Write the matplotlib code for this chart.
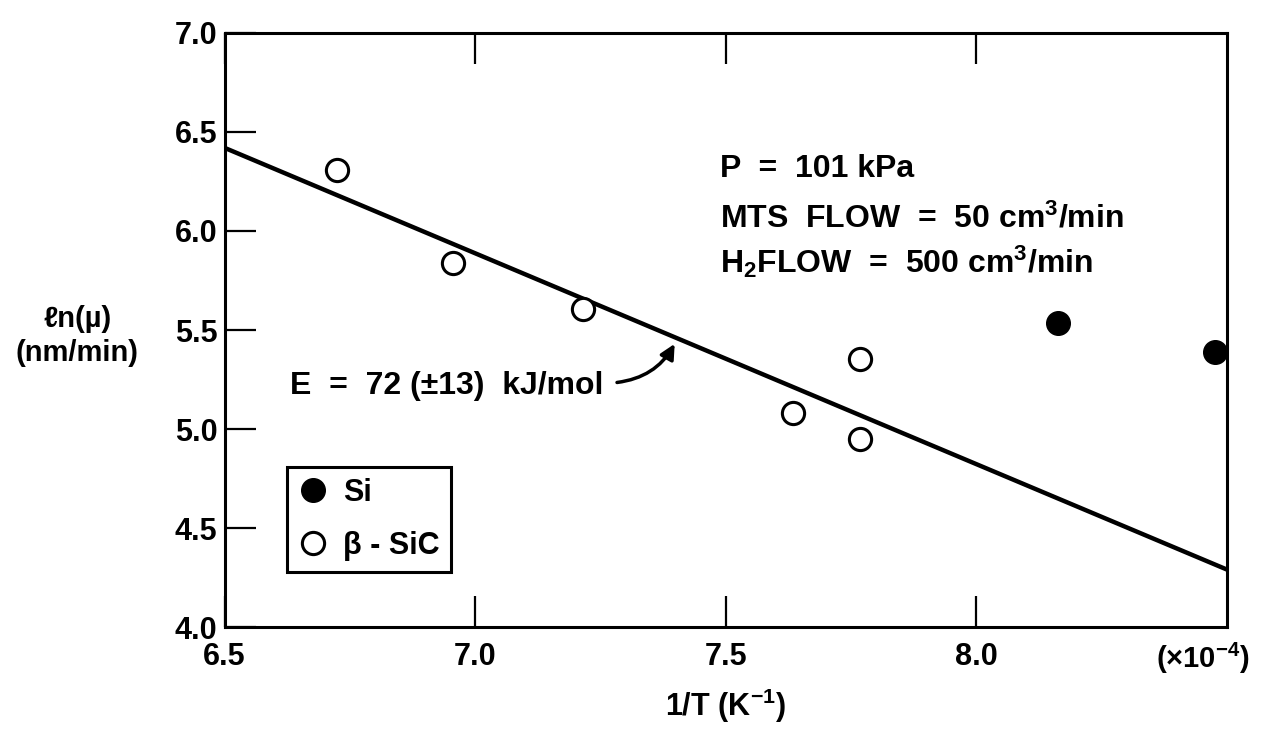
import matplotlib
matplotlib.use("Agg")
import matplotlib.pyplot as plt
from matplotlib.lines import Line2D

plt.rcParams['font.family'] = ['Liberation Sans', 'DejaVu Sans']
plt.rcParams['font.weight'] = 'bold'
plt.rcParams['axes.labelweight'] = 'bold'
plt.rcParams['mathtext.fontset'] = 'custom'
plt.rcParams['mathtext.rm'] = 'Liberation Sans:bold'
plt.rcParams['mathtext.it'] = 'Liberation Sans:italic:bold'
plt.rcParams['mathtext.bf'] = 'Liberation Sans:bold'
plt.rcParams['mathtext.default'] = 'rm'

# deposition rate vs inverse temperature (x in units of 1e-4 1/K)
sic_x = [6.725, 6.956, 7.216, 7.635, 7.768, 7.768]
sic_y = [6.307, 5.837, 5.604, 5.083, 5.356, 4.951]
si_x = [8.162, 8.477]
si_y = [5.533, 5.391]

# Arrhenius fit line
fit_x = [6.5, 8.5]
fit_y = [6.42, 4.29]

x_ticks = [6.5, 7.0, 7.5, 8.0]
y_ticks = [4.0, 4.5, 5.0, 5.5, 6.0, 6.5, 7.0]

fig = plt.figure(figsize=(12.63, 7.43), dpi=100)
ax = fig.add_axes([0.1778, 0.1561, 0.7937, 0.7995])

ax.plot(fit_x, fit_y, color='black', lw=3.2, solid_capstyle='butt', zorder=2)
ax.plot(sic_x, sic_y, 'o', ms=16, mfc='white', mec='black', mew=2.2, zorder=3)
ax.plot(si_x, si_y, 'o', ms=17, mfc='black', mec='black', zorder=3, clip_on=False)

ax.set_xlim(6.5, 8.5)
ax.set_ylim(4.0, 7.0)
ax.set_xticks(x_ticks)
ax.set_xticklabels([f'{v:.1f}' for v in x_ticks])
ax.set_yticks(y_ticks)
ax.set_yticklabels([f'{v:.1f}' for v in y_ticks])
ax.tick_params(axis='both', direction='in', length=22, width=1.6,
               labelsize=22, top=True, right=False)
ax.tick_params(axis='x', pad=11)
ax.tick_params(axis='y', pad=5)
for s in ax.spines.values():
    s.set_linewidth(2.2)

ax.set_xlabel('1/T (K$^{-1}$)', fontsize=22)
ax.xaxis.set_label_coords(0.5, -0.1)
ax.set_ylabel('ℓn(µ)\n(nm/min)', fontsize=21, rotation=0,
              ha='center', va='center', multialignment='center', linespacing=1.3)
ax.yaxis.set_label_coords(-0.147, 0.49)
ax.text(0.976, -0.052, '(×10$^{-4}$)', transform=ax.transAxes,
        ha='center', va='center', fontsize=21)

# run conditions
ax.text(7.489, 6.272, 'P  =  101 kPa', fontsize=23, va='baseline')
ax.text(7.489, 6.019, 'MTS  FLOW  =  50 cm$^{3}$/min', fontsize=23, va='baseline')
ax.text(7.489, 5.786, 'H$_{2}$FLOW  =  500 cm$^{3}$/min', fontsize=23, va='baseline')

# activation energy label with curved arrow to the fit line
ax.text(6.631, 5.179, 'E  =  72 (±13)  kJ/mol', fontsize=23, va='baseline')
ax.annotate('', xy=(7.398, 5.43), xytext=(7.283, 5.235),
            arrowprops=dict(arrowstyle='-|>', color='black', lw=2.5,
                            mutation_scale=22, shrinkA=0, shrinkB=0,
                            connectionstyle='arc3,rad=0.25'))

handles = [
    Line2D([], [], ls='none', marker='o', ms=17, mfc='black', mec='black'),
    Line2D([], [], ls='none', marker='o', ms=16, mfc='white', mec='black', mew=2.2),
]
leg = ax.legend(handles, ['Si', 'β - SiC'], loc='upper left',
                bbox_to_anchor=(0.062, 0.269), borderaxespad=0,
                fontsize=22, frameon=True, fancybox=False, framealpha=1,
                handlelength=1.0, handletextpad=0.5, borderpad=0.35,
                labelspacing=0.75)
leg.get_frame().set_edgecolor('black')
leg.get_frame().set_linewidth(2.2)

fig.savefig('out.png', dpi=100)
